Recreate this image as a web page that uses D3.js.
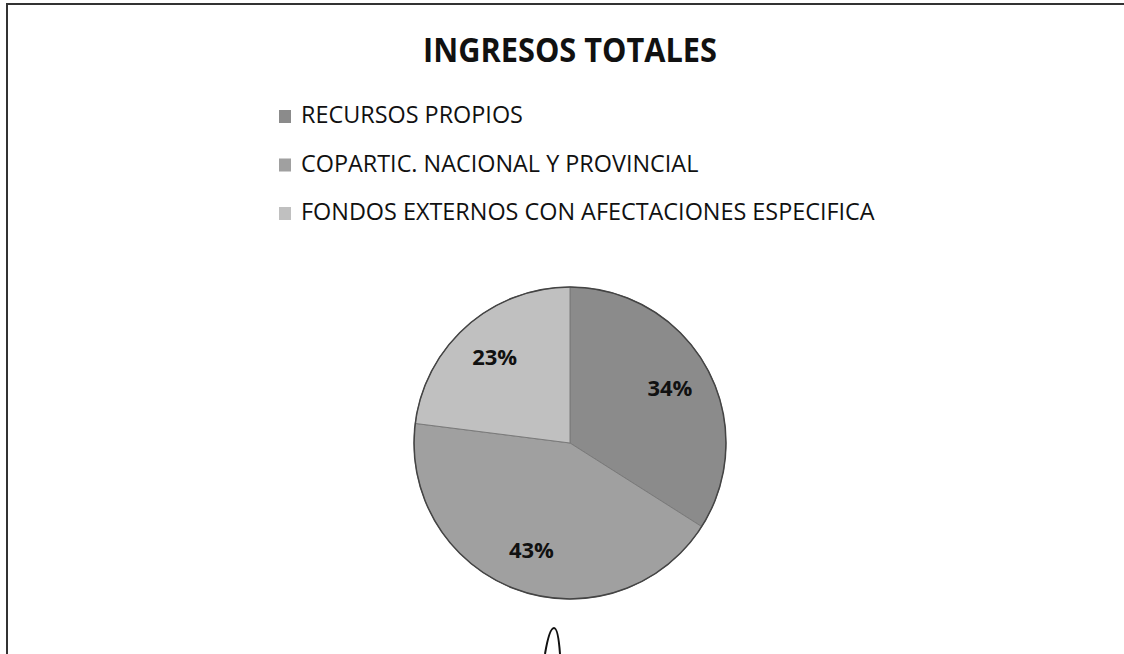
<!DOCTYPE html>
<html>
<head>
<meta charset="utf-8">
<script src="https://cdn.jsdelivr.net/npm/d3@7"></script>
<style>
body{margin:0;background:#fff;overflow:hidden;}
svg{display:block;}
</style>
</head>
<body>
<div id="chart"></div>
<script>
var title = "INGRESOS TOTALES";
var categories = ["RECURSOS PROPIOS",
				"COPARTIC. NACIONAL Y PROVINCIAL",
				"FONDOS EXTERNOS CON AFECTACIONES ESPECIFICA"];
var values = [34, 43, 23];
var sliceColors = ["#8b8b8b", "#a0a0a0", "#c0c0c0"];

var w = 1124;
var h = 654;
var cx = 570, cy = 443, r = 156;

var svg = d3.select("#chart").append("svg")
			.attr("width", w).attr("height", h);

// frame of the scanned chart (left + top)
svg.append("path")
	.attr("d", "M7," + h + "V4H" + w)
	.attr("fill", "none")
	.attr("stroke", "#333")
	.attr("stroke-width", 2);

// title, fitted to the width and cap height seen in the scan
var t = svg.append("text")
	.attr("x", 0).attr("y", 0)
	.attr("text-anchor", "middle")
	.style("font-family", "'Open Sans', sans-serif")
	.style("font-weight", "bold")
	.style("font-size", "30px")
	.attr("fill", "#111")
	.text(title);
var tw = t.node().getComputedTextLength();
var ts = 30 * 294 / tw;
t.style("font-size", ts + "px")
	.attr("transform", "translate(" + cx + ",62) scale(1," + (24 / (0.714 * ts)) + ")");

// legend
var color = d3.scaleOrdinal().domain(categories).range(sliceColors);
var legendY = d3.scalePoint().domain(categories).range([116, 213]);

var legend = svg.selectAll(".legendItem").data(categories).enter()
	.append("g").attr("class", "legendItem")
	.attr("transform", function(d){ return "translate(279," + legendY(d) + ")"; });

legend.append("rect")
	.attr("x", 0).attr("y", -6)
	.attr("width", 12).attr("height", 13)
	.attr("fill", function(d){ return color(d); });

var labels = legend.append("text")
	.attr("x", 22).attr("y", 7)
	.style("font-family", "'Open Sans', sans-serif")
	.style("font-size", "20px")
	.attr("fill", "#111")
	.text(function(d){ return d; });
var maxW = d3.max(labels.nodes(), function(n){ return n.getComputedTextLength(); });
labels.style("font-size", (20 * 574 / maxW) + "px");

// pie
var pie = d3.pie().sort(null).value(function(d){ return d.v; });
var arcs = pie(categories.map(function(c, i){ return {name: c, v: values[i]}; }));
var arc = d3.arc().innerRadius(0).outerRadius(r);
var labelArc = d3.arc().innerRadius(114).outerRadius(114);

var g = svg.append("g").attr("transform", "translate(" + cx + "," + cy + ")");

g.selectAll(".slice").data(arcs).enter()
	.append("path").attr("class", "slice")
	.attr("d", arc)
	.attr("fill", function(d){ return color(d.data.name); })
	.attr("stroke", "#7a7a7a")
	.attr("stroke-width", 1);

g.append("circle").attr("r", r)
	.attr("fill", "none").attr("stroke", "#444").attr("stroke-width", 1.5);

g.selectAll(".pct").data(arcs).enter()
	.append("text").attr("class", "pct")
	.attr("transform", function(d){ return "translate(" + labelArc.centroid(d) + ")"; })
	.attr("text-anchor", "middle")
	.attr("dy", "0.35em")
	.style("font-family", "'Open Sans', sans-serif")
	.style("font-weight", "bold")
	.style("font-size", "22px")
	.attr("fill", "#111")
	.text(function(d){ return d.data.v + "%"; });

// hand-drawn mark at the bottom of the scan
svg.append("path")
	.attr("d", "M545,654C548,636 551,628 554,628C557,628 559,640 560,654")
	.attr("fill", "none").attr("stroke", "#111").attr("stroke-width", 2);
</script>
</body>
</html>
